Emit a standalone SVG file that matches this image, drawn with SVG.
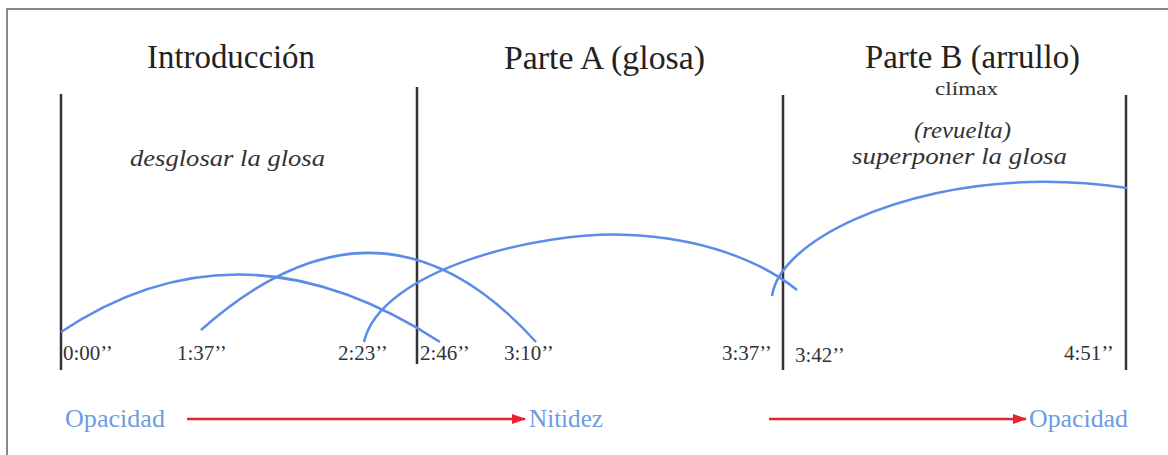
<svg xmlns="http://www.w3.org/2000/svg" width="1168" height="455" viewBox="0 0 1168 455">
<defs>
<style>
.title{font-family:"Liberation Serif",serif;font-size:33px;fill:#222}
.it{font-family:"Liberation Serif",serif;font-size:24px;font-style:italic;fill:#333}
.small{font-family:"Liberation Serif",serif;font-size:19px;fill:#333}
.time{font-family:"Liberation Serif",serif;font-size:21px;fill:#333}
.blue{font-family:"Liberation Serif",serif;font-size:26px;fill:#6e9be3}
.vline{stroke:#333;stroke-width:2.5}
.curve{fill:none;stroke:#5b8ce8;stroke-width:2.5}
.red{stroke:#e8232b;stroke-width:2.5;fill:none}
</style>
<marker id="ahr" markerWidth="14" markerHeight="10" refX="13" refY="5" orient="auto" markerUnits="userSpaceOnUse" viewBox="0 0 14 10">
<path d="M0,0 L14,5 L0,10 Z" fill="#e8232b"/>
</marker>
</defs>
<rect x="0" y="0" width="1168" height="455" fill="#fff"/>
<rect x="7" y="9" width="1180" height="470" fill="none" stroke="#888" stroke-width="2"/>

<g id="sections">
<text class="title" x="147" y="68" textLength="168" lengthAdjust="spacingAndGlyphs">Introducción</text>
<text class="title" x="504" y="69" textLength="201" lengthAdjust="spacingAndGlyphs">Parte A (glosa)</text>
<text class="title" x="865" y="68" textLength="215" lengthAdjust="spacingAndGlyphs">Parte B (arrullo)</text>
<text class="small" x="935" y="95" textLength="63" lengthAdjust="spacingAndGlyphs">clímax</text>
<text class="it" x="914" y="138" textLength="97" lengthAdjust="spacingAndGlyphs">(revuelta)</text>
<text class="it" x="852" y="164" textLength="215" lengthAdjust="spacingAndGlyphs">superponer la glosa</text>
<text class="it" x="130" y="166" textLength="195" lengthAdjust="spacingAndGlyphs">desglosar la glosa</text>
</g>

<g id="timeline">
<line class="vline" x1="61" y1="94" x2="61" y2="370"/>
<line class="vline" x1="417" y1="87" x2="417" y2="364"/>
<line class="vline" x1="783" y1="95" x2="783" y2="370"/>
<line class="vline" x1="1126" y1="95" x2="1126" y2="370"/>
</g>

<g id="times">
<text class="time" x="63" y="360">0:00’’</text>
<text class="time" x="177" y="360">1:37’’</text>
<text class="time" x="338" y="360">2:23’’</text>
<text class="time" x="420" y="360">2:46’’</text>
<text class="time" x="504" y="360">3:10’’</text>
<text class="time" x="722" y="360">3:37’’</text>
<text class="time" x="795" y="362">3:42’’</text>
<text class="time" x="1064" y="360">4:51’’</text>
</g>

<g id="connectors">
<path class="curve" d="M61,332 Q240,212 440,342"/>
<path class="curve" d="M201,330 Q381,170 536,342"/>
<path class="curve" d="M364,342 C380,270 540,230 630,235 C700,238 760,260 797,290"/>
<path class="curve" d="M772,296 C780,240 900,185 1030,182 C1070,181 1100,184 1127,188"/>
<line class="red" x1="187" y1="419" x2="525" y2="419" marker-end="url(#ahr)"/>
<line class="red" x1="769" y1="419" x2="1026" y2="419" marker-end="url(#ahr)"/>
</g>

<g id="labels">
<text class="blue" x="65" y="427" textLength="100" lengthAdjust="spacingAndGlyphs">Opacidad</text>
<text class="blue" x="529" y="427" textLength="74" lengthAdjust="spacingAndGlyphs">Nitidez</text>
<text class="blue" x="1029" y="427" textLength="99" lengthAdjust="spacingAndGlyphs">Opacidad</text>
</g>
</svg>
